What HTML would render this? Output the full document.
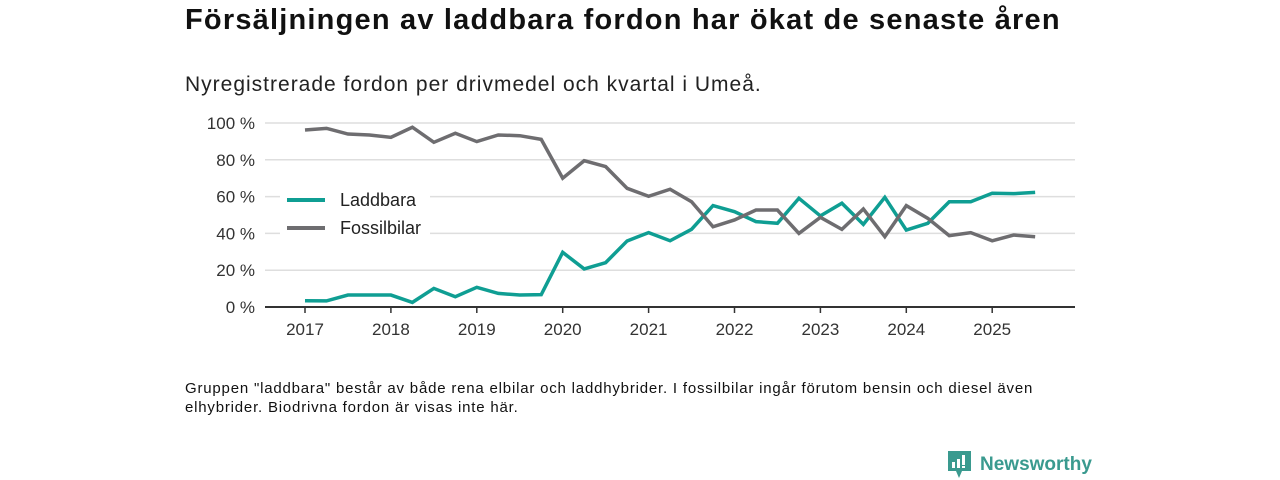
<!DOCTYPE html>
<html><head><meta charset="utf-8"><style>
body{margin:0;width:1280px;height:480px;background:#fff;font-family:"Liberation Sans",sans-serif;position:relative;overflow:hidden;color:#111}
#title{position:absolute;left:185px;top:4px;font-size:29px;letter-spacing:1.2px;font-weight:bold;white-space:nowrap}
#sub{position:absolute;left:185px;top:73px;font-size:21px;letter-spacing:1px;white-space:nowrap;color:#222}
#note{position:absolute;left:185px;top:379px;font-size:15px;letter-spacing:0.8px;line-height:19px;width:880px;color:#111}
#logo{position:absolute;left:948px;top:451px;display:flex;align-items:center}
#logo span{font-size:19px;font-weight:bold;color:#3a9a8f;margin-left:8px}
svg{position:absolute;left:0;top:0}
</style></head><body>
<div id="title">Försäljningen av laddbara fordon har ökat de senaste åren</div>
<div id="sub">Nyregistrerade fordon per drivmedel och kvartal i Umeå.</div>
<svg id="chart" width="1280" height="480"></svg>
<div id="note">Gruppen "laddbara" består av både rena elbilar och laddhybrider. I fossilbilar ingår förutom bensin och diesel även elhybrider. Biodrivna fordon är visas inte här.</div>
<div id="logo">
<svg width="24" height="28" style="position:static"><path d="M0 0H23V20H14L11 27L8 20H0Z" fill="#3a9a8f"/><rect x="4" y="11" width="3" height="6" fill="#fff"/><rect x="9" y="8" width="3" height="9" fill="#fff"/><rect x="14" y="4" width="3" height="10" fill="#fff"/><rect x="14" y="15" width="3" height="2" fill="#fff"/></svg>
<span>Newsworthy</span></div>
<script>
const years=[2017,2018,2019,2020,2021,2022,2023,2024,2025];
const yTicks=[0,20,40,60,80,100];
const laddbara=[3.4,3.3,6.5,6.5,6.5,2.5,10.1,5.6,10.7,7.4,6.5,6.7,29.7,20.7,24.1,35.9,40.4,36,42.2,55.1,51.8,46.4,45.5,59.1,49.5,56.4,44.9,59.6,41.8,45.5,57.2,57.2,61.8,61.6,62.3];
const fossil=[96.2,97.1,94,93.5,92.2,97.7,89.5,94.4,89.9,93.5,93.1,91.1,70,79.5,76.3,64.5,60.2,64,57.2,43.6,47.3,52.7,52.7,40,48.7,42.2,53.3,38.2,55.1,48.2,38.8,40.4,36,39.1,38.2];
const seriesNames=["Laddbara","Fossilbilar"];
const colors=["#0f9e93","#6e6d70"];
const svg=document.getElementById('chart');const NS='http://www.w3.org/2000/svg';
const x=t=>305+(t-2017)*85.9;const xi=i=>x(2017+i/4);const y=v=>307-v*1.84;
function mk(tag,at){const e=document.createElementNS(NS,tag);for(const k in at)e.setAttribute(k,at[k]);svg.appendChild(e);return e;}
yTicks.forEach(v=>{
 if(v>0){const g=mk('line',{x1:265,x2:1075,y1:y(v),y2:y(v),stroke:'#dedede','stroke-width':1.5});
 
 }
 const t=mk('text',{x:255,y:y(v)+6,'text-anchor':'end','font-size':17,fill:'#333','font-family':'Liberation Sans'});t.textContent=v+' %';
 
 
});
const ax=mk('line',{x1:265,x2:1075,y1:307,y2:307,stroke:'#333','stroke-width':2});


years.forEach(yr=>{
 const tk=mk('line',{x1:x(yr),x2:x(yr),y1:307,y2:313,stroke:'#333','stroke-width':1.5});
 
 
 const t=mk('text',{x:x(yr),y:335,'text-anchor':'middle','font-size':17,fill:'#333','font-family':'Liberation Sans'});t.textContent=yr;
 
 
});
[laddbara,fossil].forEach((s,k)=>{
 const p=mk('polyline',{points:s.map((v,i)=>xi(i)+','+y(v)).join(' '),fill:'none',stroke:colors[k],'stroke-width':3.5,'stroke-linejoin':'miter'});
 
 
});
seriesNames.forEach((n,k)=>{
 const yy=200+k*28;
 const bg=mk('rect',{x:280,y:yy-13,width:150,height:26,fill:'#fff'});
 
 
 const l=mk('line',{x1:287,x2:325,y1:yy,y2:yy,stroke:colors[k],'stroke-width':4});
 
 
 const t=mk('text',{x:340,y:yy+6,'font-size':18,fill:'#222','font-family':'Liberation Sans'});t.textContent=n;
 
 
});
</script>
</body></html>
